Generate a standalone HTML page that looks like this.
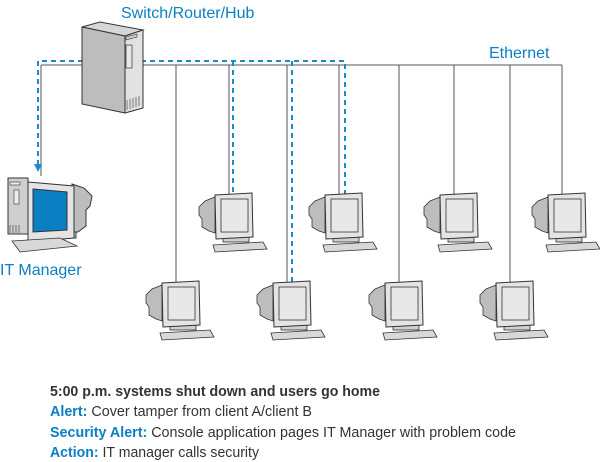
<!DOCTYPE html>
<html><head><meta charset="utf-8"><style>
html,body{margin:0;padding:0;background:#fff;}
svg{display:block;}
text{font-family:"Liberation Sans",Arial,sans-serif;}
</style></head><body>
<svg width="600" height="462" viewBox="0 0 600 462" xmlns="http://www.w3.org/2000/svg">
<defs>
<g id="mon">
  <path d="M-14,4 L-24,8 L-30,14 L-30,22 L-27,26 L-27,34 L-20,38 L-14,40 Z" fill="#bdbdbd" stroke="#333" stroke-width="0.8"/>
  <rect x="-6" y="44" width="26" height="5" fill="#cfcfcf" stroke="#333" stroke-width="0.8"/>
  <path d="M-14,2 L23,0 L24,44 L-13,46 Z" fill="#e4e4e4" stroke="#333" stroke-width="1"/>
  <rect x="-8" y="6" width="27" height="33" fill="#e8e8e8" stroke="#333" stroke-width="0.8"/>
  <path d="M-16,52 L34,49 L38,56 L-14,59 Z" fill="#d8d8d8" stroke="#333" stroke-width="0.8"/>
</g>
</defs>

<g stroke="#555" stroke-width="1" fill="none">
  <line x1="41" y1="65" x2="562" y2="65"/>
  <line x1="41" y1="65" x2="41" y2="176"/>
  <line x1="176" y1="65" x2="176" y2="284"/>
  <line x1="229" y1="65" x2="229" y2="196"/>
  <line x1="287" y1="65" x2="287" y2="284"/>
  <line x1="339" y1="65" x2="339" y2="196"/>
  <line x1="399" y1="65" x2="399" y2="284"/>
  <line x1="454" y1="65" x2="454" y2="196"/>
  <line x1="510" y1="65" x2="510" y2="284"/>
  <line x1="562" y1="65" x2="562" y2="196"/>
</g>

<g stroke="#1a8ccc" stroke-width="2" fill="none" stroke-dasharray="5,4">
  <polyline points="38,165 38,61 345,61 345,196"/>
  <line x1="233" y1="61" x2="233" y2="196"/>
  <line x1="292" y1="61" x2="292" y2="284"/>
</g>
<path d="M34,164 L42,164 L38,172 Z" fill="#1a8ccc"/>

<g stroke="#333" stroke-width="1">
  <path d="M82,27 L100,22 L143,30 L125,36 Z" fill="#d6d6d6"/>
  <path d="M82,27 L125,36 L125,113 L82,104 Z" fill="#bdbdbd"/>
  <path d="M125,36 L143,30 L143,108 L125,113 Z" fill="#e2e2e2"/>
  <rect x="126" y="45" width="6" height="23" fill="#e8e8e8" stroke-width="0.7"/>
  <path d="M126,37 L137,34 L137,37 L126,40 Z" fill="#ccc" stroke-width="0.6"/>
  <path d="M127,100 v10 M130,99 v10 M133,98 v10 M136,97 v10 M139,96 v10" stroke-width="0.6"/>
</g>

<g stroke="#333" stroke-width="1">
  <rect x="8" y="178" width="20" height="56" fill="#cfcfcf"/>
  <rect x="10" y="182" width="10" height="3" fill="#eee" stroke-width="0.6"/>
  <rect x="14" y="190" width="5" height="14" fill="#eee" stroke-width="0.6"/>
  <path d="M10,225 v8 M13,225 v8 M16,225 v8 M19,225 v8" stroke-width="0.6"/>
  <path d="M72,184 L84,188 L92,196 L90,206 L86,210 L86,226 L78,232 L72,232 Z" fill="#bdbdbd"/>
  <rect x="36" y="232" width="40" height="6" fill="#cfcfcf"/>
  <path d="M28,182 L74,186 L74,238 L28,242 Z" fill="#e4e4e4"/>
  <path d="M33,189 L67,192 L67,230 L33,232 Z" fill="#0a7fc4"/>
  <path d="M12,241 L60,238 L77,246 L20,252 Z" fill="#d8d8d8" stroke-width="0.8"/>
</g>

<use href="#mon" x="229" y="193"/>
<use href="#mon" x="339" y="193"/>
<use href="#mon" x="454" y="193"/>
<use href="#mon" x="562" y="193"/>
<use href="#mon" x="176" y="281"/>
<use href="#mon" x="287" y="281"/>
<use href="#mon" x="399" y="281"/>
<use href="#mon" x="510" y="281"/>

<text x="121" y="18" font-size="16" fill="#0a7fc4">Switch/Router/Hub</text>
<text x="489" y="58" font-size="16" fill="#0a7fc4">Ethernet</text>
<text x="0" y="275" font-size="16" fill="#0a7fc4">IT Manager</text>

<text x="50" y="396" font-size="15" font-weight="bold" fill="#333" textLength="330" lengthAdjust="spacingAndGlyphs">5:00 p.m. systems shut down and users go home</text>
<text x="50" y="416" font-size="15" fill="#333" textLength="262" lengthAdjust="spacingAndGlyphs"><tspan font-weight="bold" fill="#0a7fc4">Alert:</tspan> Cover tamper from client A/client B</text>
<text x="50" y="437" font-size="15" fill="#333" textLength="466" lengthAdjust="spacingAndGlyphs"><tspan font-weight="bold" fill="#0a7fc4">Security Alert:</tspan> Console application pages IT Manager with problem code</text>
<text x="50" y="457" font-size="15" fill="#333" textLength="209" lengthAdjust="spacingAndGlyphs"><tspan font-weight="bold" fill="#0a7fc4">Action:</tspan> IT manager calls security</text>
</svg>
</body></html>
